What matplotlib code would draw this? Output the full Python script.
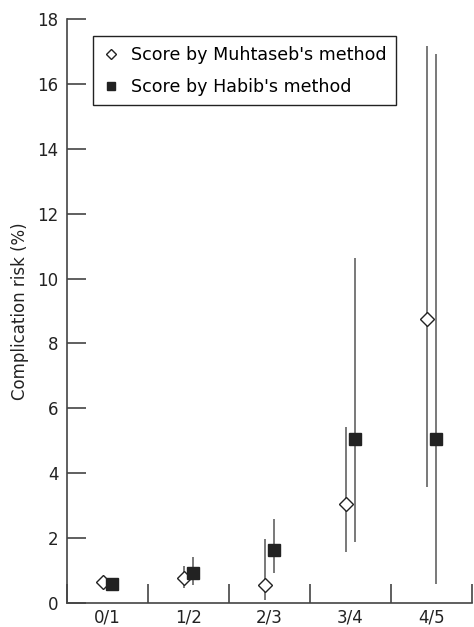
import numpy as np
import matplotlib
matplotlib.use("Agg")
import matplotlib.pyplot as plt
from matplotlib.ticker import FixedLocator, NullFormatter, FixedFormatter

categories = ["0/1", "1/2", "2/3", "3/4", "4/5"]
muhtaseb_val = [0.64, 0.78, 0.54, 3.04, 8.75]
muhtaseb_lo = [0.55, 0.45, 0.08, 1.56, 3.57]
muhtaseb_hi = [0.72, 1.15, 1.96, 5.42, 17.17]
habib_val = [0.59, 0.91, 1.63, 5.05, 5.05]
habib_lo = [0.43, 0.55, 0.93, 1.87, 0.58]
habib_hi = [0.74, 1.43, 2.60, 10.64, 16.91]
yticks = [0, 2, 4, 6, 8, 10, 12, 14, 16, 18]

plt.rcParams['font.family'] = ['DejaVu Sans']
fig = plt.figure(figsize=(4.74, 6.27), dpi=100)
ax = fig.add_axes([67/474, 1-603/627, (472-67)/474, (603-19)/627])

centers = np.arange(len(categories)) + 0.5
off = 0.06
mv = np.array(muhtaseb_val); hv = np.array(habib_val)
m_err = [mv - np.array(muhtaseb_lo), np.array(muhtaseb_hi) - mv]
h_err = [hv - np.array(habib_lo), np.array(habib_hi) - hv]

ecol = '#6e6e6e'
ax.errorbar(centers - off, mv, yerr=m_err, fmt='none', ecolor=ecol, elinewidth=1.3,
            capsize=0, zorder=2)
ax.errorbar(centers + off, hv, yerr=h_err, fmt='none', ecolor=ecol, elinewidth=1.3,
            capsize=0, zorder=2)
ax.plot(centers - off, mv, 'D', ms=7, mfc='white', mec='#222222', mew=1.0, zorder=3,
        label="Score by Muhtaseb's method")
ax.plot(centers + off, hv, 's', ms=8, mfc='#222222', mec='#222222', zorder=3,
        label="Score by Habib's method")

ax.set_xlim(0, 5)
ax.set_ylim(0, 18)
for s in ['top', 'right']:
    ax.spines[s].set_visible(False)
for s in ['left', 'bottom']:
    ax.spines[s].set_color('#444444')
    ax.spines[s].set_linewidth(1.2)

ax.xaxis.set_major_locator(FixedLocator(range(6)))
ax.xaxis.set_major_formatter(NullFormatter())
ax.xaxis.set_minor_locator(FixedLocator(centers))
ax.xaxis.set_minor_formatter(FixedFormatter(categories))
ax.tick_params(axis='x', which='major', direction='in', length=14, width=1.2, color='#444444')
ax.tick_params(axis='x', which='minor', length=0, pad=4, labelsize=12, labelcolor='#222222')
ax.set_yticks(yticks)
ax.tick_params(axis='y', direction='in', length=14, width=1.2, color='#444444', pad=6,
               labelsize=12, labelcolor='#222222')
ax.set_ylabel("Complication risk (%)", fontsize=12, color='#222222', labelpad=6)

leg = ax.legend(loc='upper left', bbox_to_anchor=(26/405, 1-(36-19)/584), fontsize=12.6,
                frameon=True, fancybox=False, handletextpad=0.6, borderpad=0.55,
                labelspacing=0.8, handlelength=1.0, borderaxespad=0, markerscale=0.8)
leg.get_frame().set_edgecolor('#222222')
leg.get_frame().set_linewidth(1.0)
leg.get_frame().set_alpha(1)

fig.savefig("out.png", dpi=100)
